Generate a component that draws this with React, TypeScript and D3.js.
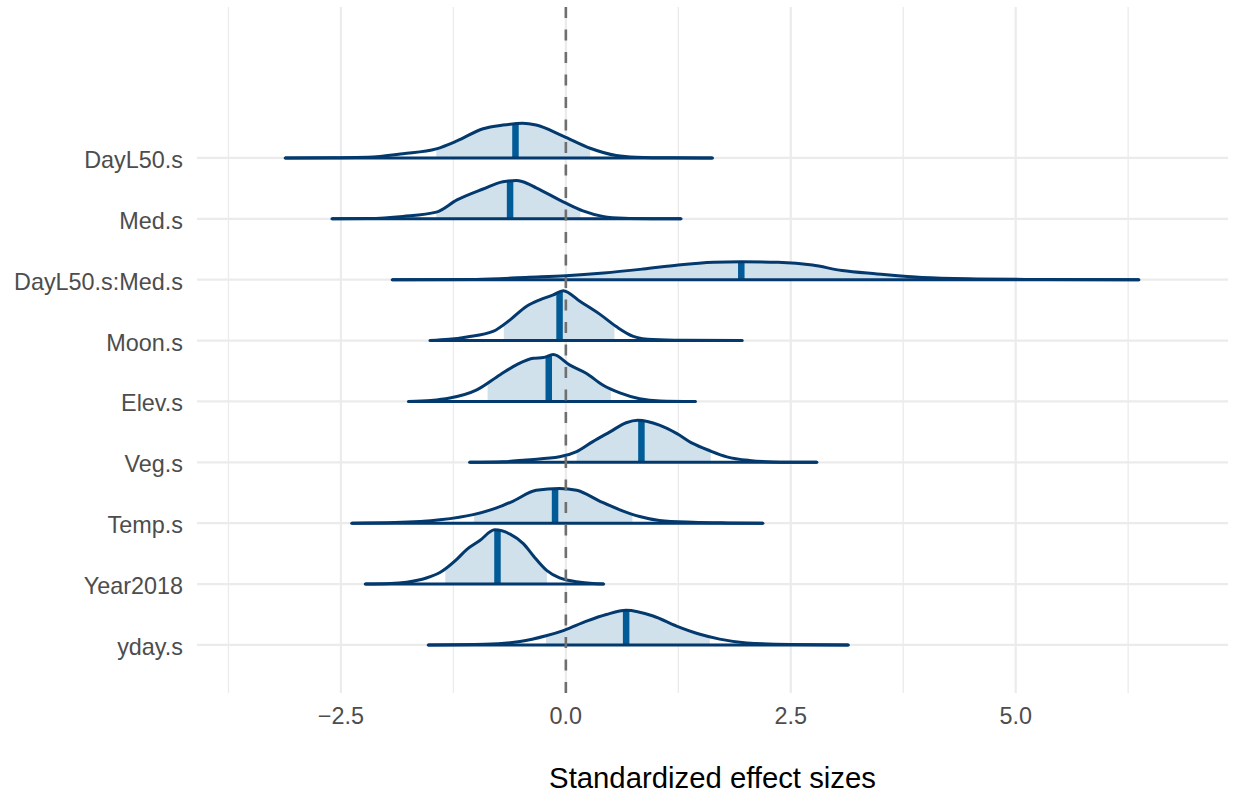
import * as d3 from 'd3';
import { useEffect, useRef } from 'react';

// parameters, top to bottom
const params = ['DayL50.s', 'Med.s', 'DayL50.s:Med.s', 'Moon.s', 'Elev.s', 'Veg.s', 'Temp.s', 'Year2018', 'yday.s'];
const medians = [-0.56, -0.62, 1.95, -0.07, -0.19, 0.84, -0.12, -0.76, 0.67];
const lower = [-1.44, -1.44, 0.0, -0.69, -0.87, 0.12, -1.02, -1.34, -0.22];
const upper = [0.27, 0.16, 3.96, 0.54, 0.5, 1.61, 0.74, -0.21, 1.6];

// density curves: [effect size, height in row units]
const densDayL50 = [[-3.12, 0], [-2.6, 0.004], [-2.2, 0.012], [-1.81, 0.07], [-1.44, 0.15], [-1.21, 0.28], [-0.92, 0.48], [-0.7, 0.54], [-0.48, 0.57], [-0.33, 0.54], [-0.03, 0.36], [0.27, 0.16], [0.56, 0.04], [0.78, 0.012], [1.2, 0.002], [1.63, 0]];
const densMed = [[-2.6, 0], [-2.2, 0.005], [-1.81, 0.04], [-1.44, 0.11], [-1.21, 0.31], [-0.92, 0.49], [-0.7, 0.61], [-0.55, 0.63], [-0.48, 0.61], [-0.33, 0.51], [-0.03, 0.28], [0.19, 0.13], [0.41, 0.04], [0.65, 0.01], [1.0, 0.002], [1.28, 0]];
const densInter = [[-1.93, 0], [-1.0, 0.005], [-0.41, 0.04], [0.0, 0.065], [0.42, 0.11], [0.86, 0.175], [1.25, 0.24], [1.64, 0.285], [1.95, 0.295], [2.36, 0.285], [2.74, 0.24], [3.07, 0.15], [3.46, 0.095], [3.96, 0.035], [4.57, 0.012], [5.3, 0.003], [6.37, 0]];
const densMoon = [[-1.51, 0], [-1.3, 0.02], [-1.1, 0.06], [-0.81, 0.15], [-0.62, 0.34], [-0.44, 0.56], [-0.29, 0.67], [-0.14, 0.75], [-0.03, 0.82], [0.16, 0.64], [0.38, 0.43], [0.56, 0.23], [0.75, 0.07], [0.97, 0.016], [1.3, 0.004], [1.96, 0]];
const densElev = [[-1.75, 0], [-1.5, 0.015], [-1.29, 0.055], [-0.99, 0.19], [-0.73, 0.44], [-0.55, 0.6], [-0.36, 0.71], [-0.25, 0.72], [-0.14, 0.77], [0.04, 0.6], [0.23, 0.46], [0.41, 0.27], [0.6, 0.14], [0.82, 0.045], [1.05, 0.008], [1.44, 0]];
const densVeg = [[-1.07, 0], [-0.7, 0.008], [-0.44, 0.04], [-0.07, 0.09], [0.12, 0.175], [0.3, 0.34], [0.49, 0.5], [0.67, 0.65], [0.8, 0.69], [1.04, 0.61], [1.23, 0.475], [1.41, 0.31], [1.6, 0.19], [1.79, 0.09], [2.04, 0.03], [2.3, 0.007], [2.79, 0]];
const densTemp = [[-2.38, 0], [-1.9, 0.01], [-1.4, 0.055], [-1.03, 0.14], [-0.77, 0.25], [-0.59, 0.36], [-0.33, 0.54], [-0.07, 0.57], [0.12, 0.54], [0.38, 0.36], [0.6, 0.22], [0.82, 0.11], [1.04, 0.045], [1.41, 0.015], [1.8, 0.004], [2.19, 0]];
const densYear = [[-2.23, 0], [-1.95, 0.008], [-1.77, 0.03], [-1.55, 0.1], [-1.4, 0.19], [-1.21, 0.41], [-1.1, 0.57], [-0.96, 0.71], [-0.79, 0.89], [-0.62, 0.82], [-0.47, 0.66], [-0.36, 0.46], [-0.21, 0.22], [-0.07, 0.1], [0.16, 0.03], [0.42, 0]];
const densYday = [[-1.53, 0], [-0.9, 0.01], [-0.51, 0.055], [-0.22, 0.15], [-0.02, 0.24], [0.23, 0.39], [0.45, 0.5], [0.67, 0.57], [0.97, 0.475], [1.23, 0.31], [1.49, 0.175], [1.71, 0.095], [2.01, 0.033], [2.5, 0.008], [3.14, 0]];
const densities = [densDayL50, densMed, densInter, densMoon, densElev, densVeg, densTemp, densYear, densYday];

const xTicks = [-2.5, 0, 2.5, 5];
const xMinor = [-3.75, -1.25, 1.25, 3.75, 6.25];

const W = 1233;
const H = 799;
const FONT = '"Liberation Sans", Arial, Helvetica, sans-serif';

export default function App() {
    const svgRef = useRef(null);
    useEffect(() => {
        if (!svgRef.current) return;
        const svg = d3.select(svgRef.current);
        svg.selectAll('*').remove();

        const left = 197, right = 1228, top = 7, bottom = 693;
        const x = d3.scaleLinear().domain([-4.1, 7.36]).range([left, right]);
        const y = d3.scaleLinear().domain([-0.79, 10.48]).range([bottom, top]);
        const step = y(0) - y(1);
        const hs = d3.scaleLinear().domain([0, 1]).range([0, step]);
        const n = params.length;
        const rowY = (i: number) => y(n - 1 - i);

        // grid
        const grid = svg.append('g');
        grid.selectAll('line.minor')
            .data(xMinor)
            .join('line')
            .attr('x1', (d) => x(d))
            .attr('x2', (d) => x(d))
            .attr('y1', top)
            .attr('y2', bottom)
            .attr('stroke', '#ebebeb')
            .attr('stroke-width', 1.3);
        grid.selectAll('line.major')
            .data(xTicks)
            .join('line')
            .attr('x1', (d) => x(d))
            .attr('x2', (d) => x(d))
            .attr('y1', top)
            .attr('y2', bottom)
            .attr('stroke', '#ebebeb')
            .attr('stroke-width', 2.2);
        grid.selectAll('line.row')
            .data(params)
            .join('line')
            .attr('x1', left)
            .attr('x2', right)
            .attr('y1', (_d, i) => rowY(i))
            .attr('y2', (_d, i) => rowY(i))
            .attr('stroke', '#ebebeb')
            .attr('stroke-width', 2.2);

        const defs = svg.append('defs');

        params.forEach((_p, i) => {
            const base = rowY(i);
            const pts = densities[i] as [number, number][];
            const area = d3
                .area<[number, number]>()
                .x((d) => x(d[0]))
                .y0(base)
                .y1((d) => base - hs(d[1]))
                .curve(d3.curveMonotoneX);
            const line = d3
                .line<[number, number]>()
                .x((d) => x(d[0]))
                .y((d) => base - hs(d[1]))
                .curve(d3.curveMonotoneX);

            const id = 'dens-clip-' + i;
            defs.append('clipPath').attr('id', id).append('path').attr('d', area(pts));

            const g = svg.append('g');
            const clipped = g.append('g').attr('clip-path', 'url(#' + id + ')');
            clipped
                .append('rect')
                .attr('x', x(lower[i]))
                .attr('width', x(upper[i]) - x(lower[i]))
                .attr('y', base - step * 1.2)
                .attr('height', step * 1.2)
                .attr('fill', '#d1e1ec');
            clipped
                .append('line')
                .attr('x1', x(medians[i]))
                .attr('x2', x(medians[i]))
                .attr('y1', base)
                .attr('y2', base - step * 1.2)
                .attr('stroke', '#005b96')
                .attr('stroke-width', 6.5);

            g.append('path')
                .attr('d', line(pts))
                .attr('fill', 'none')
                .attr('stroke', '#03396c')
                .attr('stroke-width', 3)
                .attr('stroke-linejoin', 'round');
            g.append('line')
                .attr('x1', x(pts[0][0]))
                .attr('x2', x(pts[pts.length - 1][0]))
                .attr('y1', base)
                .attr('y2', base)
                .attr('stroke', '#03396c')
                .attr('stroke-width', 3)
                .attr('stroke-linecap', 'round');
        });

        // zero reference line, drawn from the bottom up
        svg.append('line')
            .attr('x1', x(0))
            .attr('x2', x(0))
            .attr('y1', bottom)
            .attr('y2', top)
            .attr('stroke', '#6f6f6f')
            .attr('stroke-width', 2.6)
            .attr('stroke-dasharray', '11,11.5');

        // y labels
        svg.append('g')
            .selectAll('text')
            .data(params)
            .join('text')
            .attr('x', 183)
            .attr('y', (_d, i) => rowY(i))
            .attr('dy', 10)
            .attr('text-anchor', 'end')
            .attr('font-family', FONT)
            .attr('font-size', 23.4)
            .attr('fill', '#4d4d4d')
            .text((d) => d);

        // x tick labels
        svg.append('g')
            .selectAll('text')
            .data(xTicks)
            .join('text')
            .attr('x', (d) => x(d))
            .attr('y', 724)
            .attr('text-anchor', 'middle')
            .attr('font-family', FONT)
            .attr('font-size', 23.4)
            .attr('fill', '#4d4d4d')
            .text((d) => d3.format('.1f')(d));

        svg.append('text')
            .attr('x', (left + right) / 2)
            .attr('y', 788)
            .attr('text-anchor', 'middle')
            .attr('font-family', FONT)
            .attr('font-size', 29.3)
            .attr('fill', '#000000')
            .text('Standardized effect sizes');
    }, []);

    return (
        <div style={{ position: 'fixed', left: 0, top: 0, width: W, height: H, background: '#ffffff' }}>
            <svg ref={svgRef} width={W} height={H} />
        </div>
    );
}
